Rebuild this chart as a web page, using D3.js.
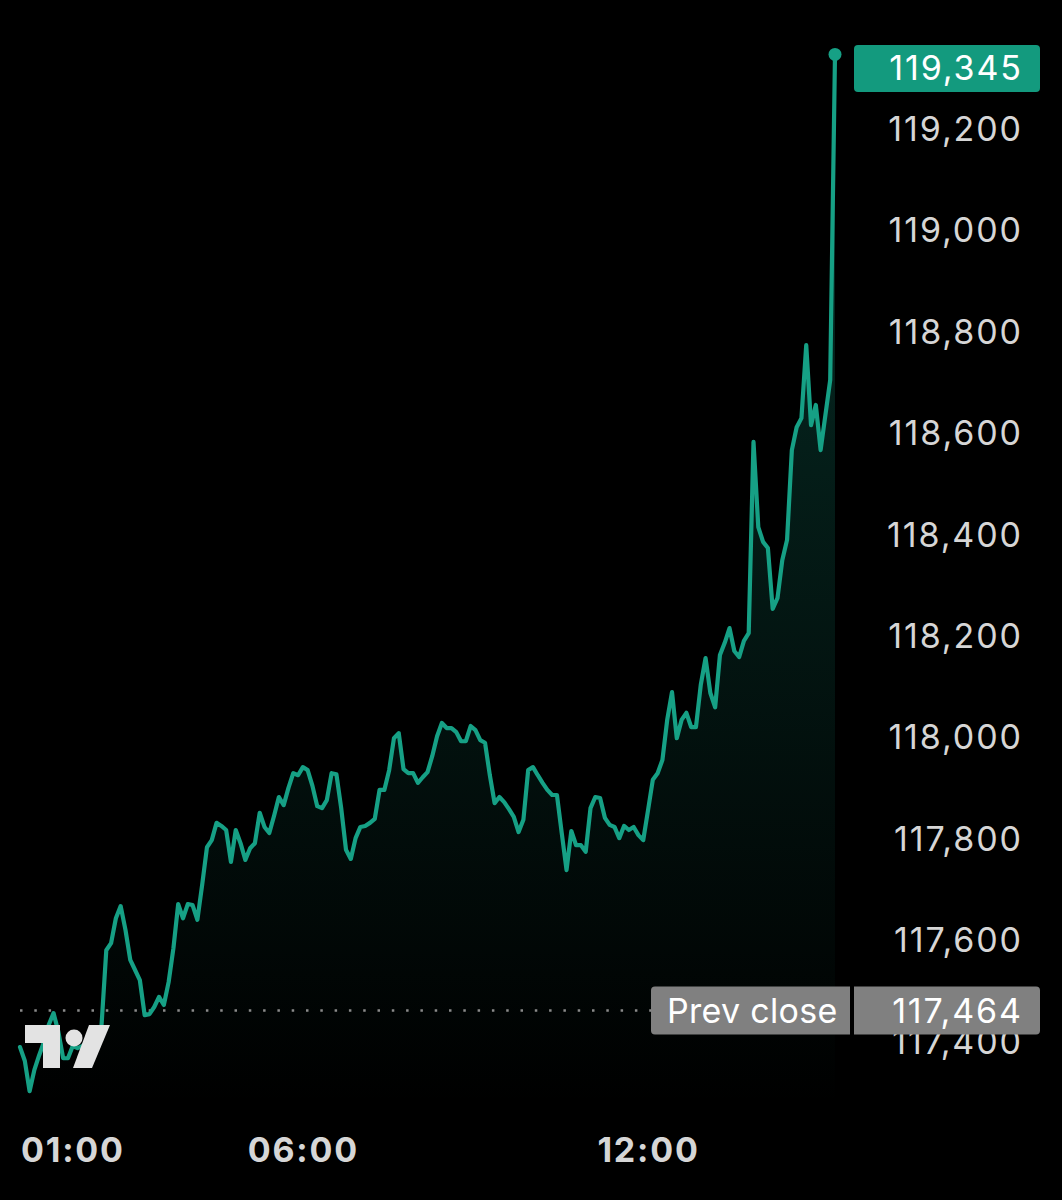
<!DOCTYPE html>
<html>
<head>
<meta charset="utf-8">
<script src="https://cdn.jsdelivr.net/npm/d3@7"></script>
<style>
  html, body { margin: 0; padding: 0; background: #000; }
  svg { display: block; }
</style>
</head>
<body>
<svg id="chart" width="1062" height="1200"></svg>
<script>
// ---- data (5-minute closes) ----
const startTime = new Date(2025, 6, 11, 1, 5);
const stepMinutes = 5;
const prices = [
  117388,117361,117301,117343,117372,117398,117432,117455,117418,117366,
  117366,117390,117386,117390,117398,117406,117416,117430,117579,117593,
  117642,117666,117619,117560,117540,117520,117451,117453,117467,117487,
  117471,117516,117583,117670,117642,117670,117668,117639,117708,117782,
  117796,117830,117824,117816,117753,117816,117790,117757,117780,117790,
  117850,117822,117810,117844,117881,117865,117899,117928,117924,117940,
  117934,117903,117863,117859,117875,117928,117926,117859,117777,117759,
  117800,117822,117824,117830,117838,117895,117895,117934,117997,118007,
  117936,117928,117928,117909,117920,117930,117962,118001,118027,118017,
  118017,118009,117991,117991,118021,118013,117993,117988,117924,117869,
  117881,117871,117857,117842,117812,117836,117934,117940,117924,117909,
  117895,117885,117885,117810,117737,117814,117786,117786,117773,117859,
  117881,117879,117840,117826,117822,117800,117824,117816,117822,117806,
  117796,117855,117915,117928,117954,118033,118088,117997,118033,118047,
  118019,118019,118102,118155,118086,118058,118161,118185,118214,118169,
  118157,118189,118204,118581,118413,118384,118372,118252,118273,118348,
  118388,118565,118610,118628,118772,118614,118654,118565,118634,118703,
  119345
];
const prevClose = 117464;
const yTickValues = [117400,117600,117800,118000,118200,118400,118600,118800,119000,119200];
const xTickLabels = ["01:00", "06:00", "12:00"];
const prevCloseLabel = "Prev close";

// ---- styles ----
const lineColor = "#16a085";
const labelFont = "Inter, 'Noto Sans', sans-serif";
const labelSize = "34px";
const labelSpacing = 1.9;

const data = prices.map((p, i) => ({
  t: new Date(startTime.getTime() + i * stepMinutes * 60000),
  v: p
}));

const svg = d3.select("#chart");
svg.append("rect").attr("width", 1062).attr("height", 1200).attr("fill", "#000");

const x = d3.scaleTime()
  .domain(d3.extent(data, d => d.t))
  .range([20, 835]);
const y = d3.scaleLinear()
  .domain([117400, 119200])
  .range([1041, 128]);
const plotTop = 45, plotBottom = 1105;

// gradient
const defs = svg.append("defs");
const grad = defs.append("linearGradient")
  .attr("id", "areaGrad").attr("gradientUnits", "userSpaceOnUse")
  .attr("x1", 0).attr("x2", 0).attr("y1", y(d3.max(prices))).attr("y2", plotBottom);
grad.append("stop").attr("offset", "0%").attr("stop-color", lineColor).attr("stop-opacity", 0.3);
grad.append("stop").attr("offset", "100%").attr("stop-color", lineColor).attr("stop-opacity", 0.0);

// area
svg.append("path").datum(data)
  .attr("fill", "url(#areaGrad)")
  .attr("d", d3.area().x(d => x(d.t)).y0(plotBottom).y1(d => y(d.v)));

// prev close dotted line
svg.append("line")
  .attr("x1", x(data[0].t)).attr("x2", 651)
  .attr("y1", y(prevClose) + 2).attr("y2", y(prevClose) + 2)
  .attr("stroke", "#8a8a8a").attr("stroke-width", 2.5)
  .attr("stroke-dasharray", "2.5 11.8");

// line
svg.append("path").datum(data)
  .attr("fill", "none")
  .attr("stroke", lineColor)
  .attr("stroke-width", 4.2)
  .attr("stroke-linejoin", "round")
  .attr("stroke-linecap", "round")
  .attr("d", d3.line().x(d => x(d.t)).y(d => y(d.v)));

// last point dot
const last = data[data.length - 1];
svg.append("circle")
  .attr("cx", x(last.t)).attr("cy", y(last.v)).attr("r", 6.5)
  .attr("fill", lineColor);

// TradingView-like logo
const logo = svg.append("g").attr("fill", "#e3e3e3");
logo.append("path").attr("d", "M25,1025 H60 V1068 H43 V1043 H25 Z");
logo.append("circle").attr("cx", 74).attr("cy", 1038).attr("r", 8.5);
logo.append("path").attr("d", "M89,1025 H110 L92,1068 H73 Z");

// y axis
const yAxis = d3.axisRight(y).tickValues(yTickValues).tickFormat(d3.format(",")).tickSize(0).tickPadding(0);
const yg = svg.append("g").attr("transform", "translate(1021,0)").call(yAxis);
yg.select(".domain").remove();
yg.selectAll("text")
  .attr("text-anchor", "end")
  .attr("x", labelSpacing)
  .attr("dy", "0.36em")
  .attr("fill", "#d6d6d6")
  .style("font-family", labelFont)
  .style("font-size", labelSize)
  .style("letter-spacing", labelSpacing + "px");

// prev close label
const pcY = y(prevClose);
svg.append("path")
  .attr("d", roundedRect(651, pcY - 22, 199, 48, 4, true, false))
  .attr("fill", "#808080");
svg.append("path")
  .attr("d", roundedRect(854, pcY - 22, 186, 48, 4, false, true))
  .attr("fill", "#808080");
svg.append("text")
  .attr("x", 667).attr("y", pcY + 2).attr("dy", "0.36em")
  .attr("fill", "#fff").style("font-family", labelFont).style("font-size", labelSize)
  .style("letter-spacing", "0.3px")
  .text(prevCloseLabel);
svg.append("text")
  .attr("x", 1021 + labelSpacing).attr("y", pcY + 2).attr("dy", "0.36em")
  .attr("text-anchor", "end")
  .attr("fill", "#fff").style("font-family", labelFont).style("font-size", labelSize)
  .style("letter-spacing", labelSpacing + "px")
  .text(d3.format(",")(prevClose));

// last value label (clamped inside the pane)
const lvY = Math.max(y(last.v), plotTop + 23);
svg.append("path")
  .attr("d", roundedRect(854, lvY - 23, 186, 47, 4, true, true))
  .attr("fill", "#139a7e");
svg.append("text")
  .attr("x", 1021 + labelSpacing).attr("y", lvY).attr("dy", "0.36em")
  .attr("text-anchor", "end")
  .attr("fill", "#fff").style("font-family", labelFont).style("font-size", labelSize)
  .style("letter-spacing", labelSpacing + "px")
  .text(d3.format(",")(last.v));

// x axis
const xTicks = xTickLabels.map(s => {
  const [h, m] = s.split(":").map(Number);
  return new Date(2025, 6, 11, h, m);
});
const xAxis = d3.axisBottom(x).tickValues(xTicks).tickFormat(d3.timeFormat("%H:%M")).tickSize(0).tickPadding(0);
const xg = svg.append("g").attr("transform", "translate(0,1150)").call(xAxis);
xg.select(".domain").remove();
xg.selectAll("text")
  .attr("y", 0)
  .attr("dy", "0.36em")
  .attr("fill", "#d6d6d6")
  .style("font-family", labelFont)
  .style("font-size", "34px")
  .style("font-weight", "700")
  .style("letter-spacing", "1.8px");
// clamp labels that overflow the left edge
xg.selectAll(".tick").each(function() {
  const g = d3.select(this);
  const t = g.select("text");
  const bb = this.getBBox();
  const tr = g.attr("transform");
  const tx = +tr.match(/translate\(([-\d.]+)/)[1];
  const left = tx + bb.x;
  if (left < 21) t.attr("x", 21 - left);
});

function roundedRect(x0, y0, w, h, r, roundLeft, roundRight) {
  const rl = roundLeft ? r : 0, rr = roundRight ? r : 0;
  return `M${x0 + rl},${y0} H${x0 + w - rr} Q${x0 + w},${y0} ${x0 + w},${y0 + rr} V${y0 + h - rr} Q${x0 + w},${y0 + h} ${x0 + w - rr},${y0 + h} H${x0 + rl} Q${x0},${y0 + h} ${x0},${y0 + h - rl} V${y0 + rl} Q${x0},${y0} ${x0 + rl},${y0} Z`;
}
</script>
</body>
</html>
